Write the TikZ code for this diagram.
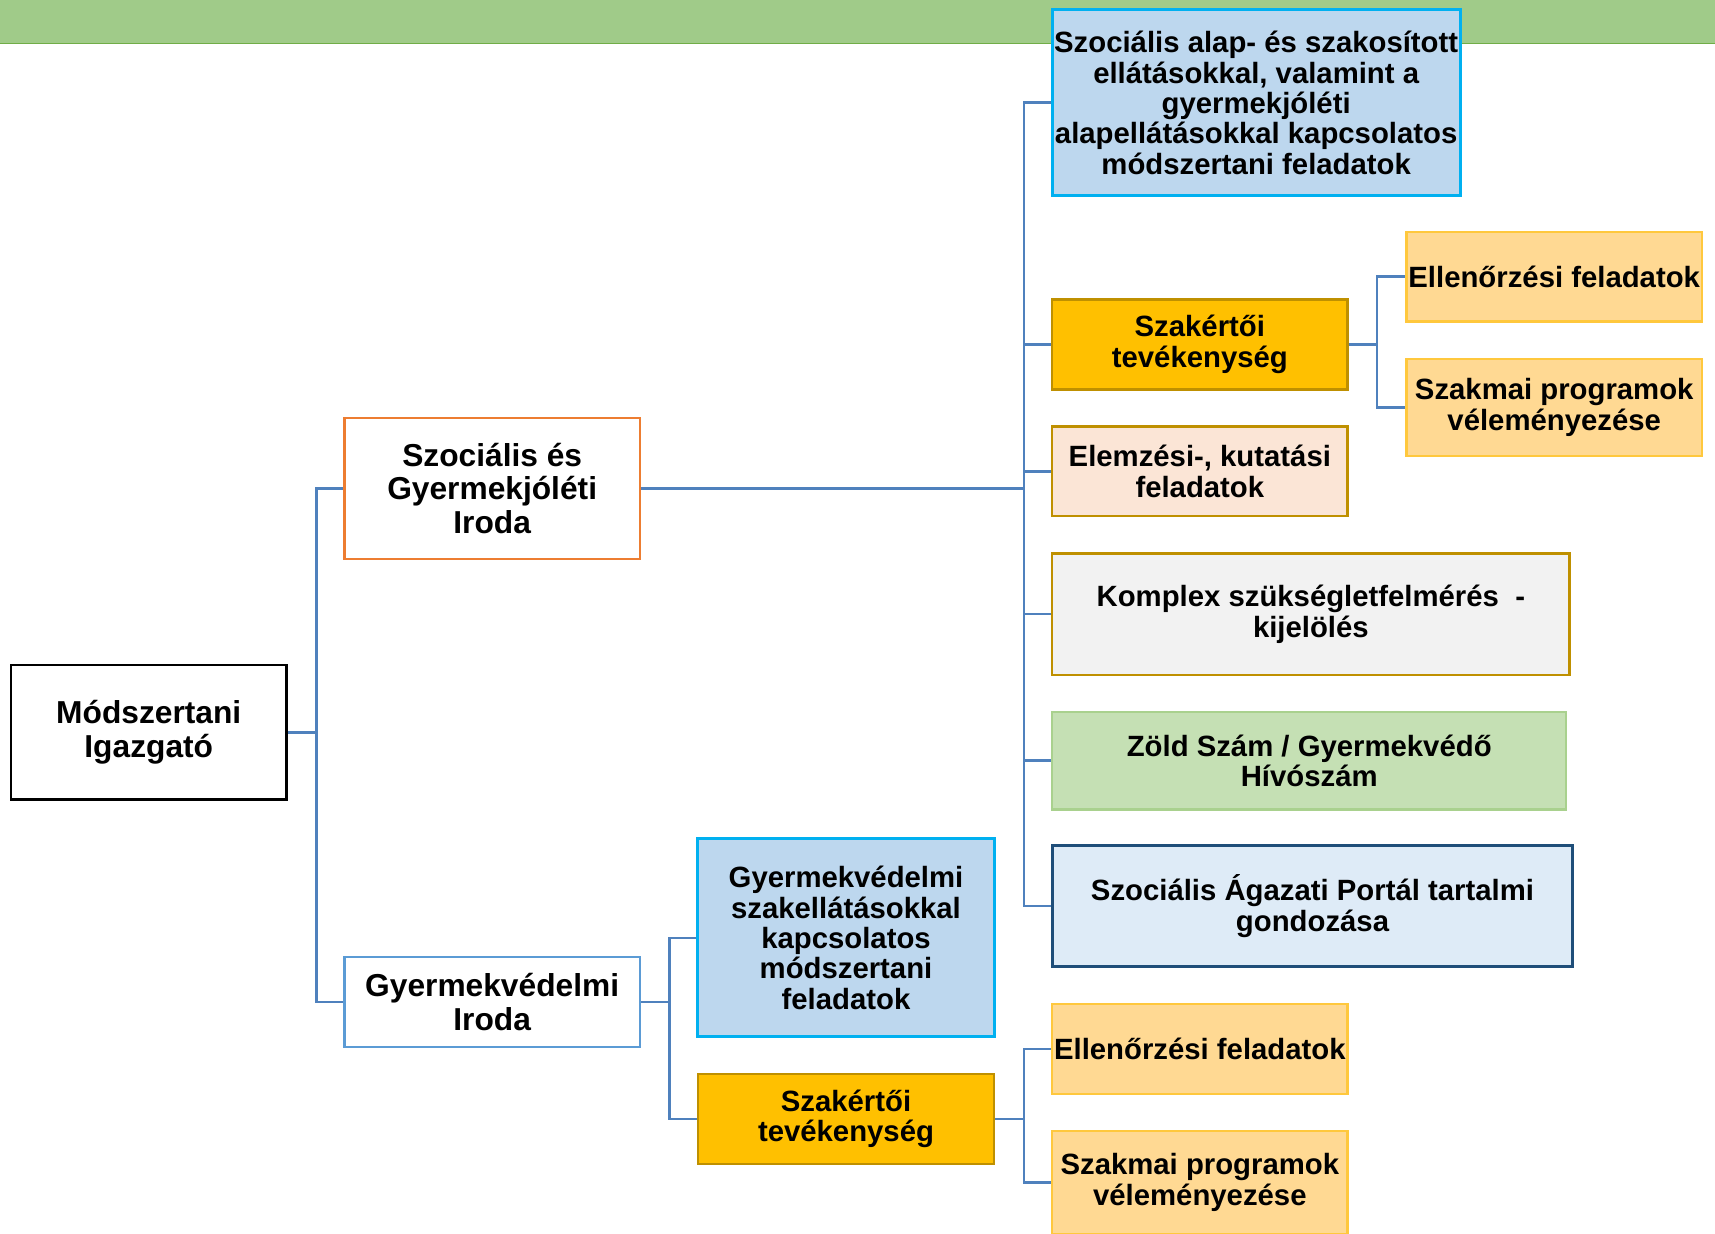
\documentclass[tikz,border=0pt]{standalone}
\usepackage{fontspec}
\setmainfont{Liberation Sans}
\definecolor{band}{HTML}{A0CB89}
\definecolor{bandline}{HTML}{70AD47}
\definecolor{conn}{HTML}{4F81BD}
\definecolor{lblue}{HTML}{BDD7EE}
\definecolor{cyanb}{HTML}{00B0F0}
\definecolor{gold}{HTML}{FFC000}
\definecolor{goldb}{HTML}{BF9000}
\definecolor{lorange}{HTML}{FFD993}
\definecolor{lorangeb}{HTML}{FFC83D}
\definecolor{peach}{HTML}{FBE5D6}
\definecolor{lgray}{HTML}{F2F2F2}
\definecolor{lgreen}{HTML}{C5E0B4}
\definecolor{lgreenb}{HTML}{A9D18E}
\definecolor{vlblue}{HTML}{DEEBF7}
\definecolor{dblue}{HTML}{1F4E79}
\definecolor{orangeb}{HTML}{ED7D31}
\definecolor{midblue}{HTML}{5B9BD5}
\tikzset{
  box/.style={draw, line width=1.1pt, inner sep=0pt, align=center,
    font=\bfseries\fontsize{13.4}{13.9}\selectfont},
  bigbox/.style={box, font=\bfseries\fontsize{14.5}{15.25}\selectfont},
  link/.style={draw=conn, line width=1.2pt},
}
\begin{document}
\begin{tikzpicture}[x=0.5pt,y=-0.5pt]
\useasboundingbox (0,0) rectangle (1568,1128);
\fill[band] (0,0) rectangle (1568,40);
\draw[bandline, line width=0.6pt] (0,40) -- (1568,40);

\node[bigbox, draw=black, line width=1.3pt, fill=white, minimum width=126pt, minimum height=61.5pt] (mod) at (136,669.5) {Módszertani\\Igazgató};
\node[bigbox, draw=orangeb, fill=white, minimum width=135pt, minimum height=64.5pt] (szgy) at (450,446.5) {Szociális és\\Gyermekjóléti\\Iroda};
\node[bigbox, draw=midblue, fill=white, minimum width=135pt, minimum height=41pt] (gyv) at (450,916) {Gyermekvédelmi\\Iroda};

\node[box, draw=cyanb, line width=1.3pt, fill=lblue, minimum width=186.5pt, minimum height=85pt] (alap) at (1148.5,94) {Szociális alap- és szakosított\\ellátásokkal, valamint a\\gyermekjóléti\\alapellátásokkal kapcsolatos\\módszertani feladatok};
\node[box, draw=goldb, fill=gold, minimum width=135pt, minimum height=41pt] (szak1) at (1097,315) {Szakértői\\tevékenység};
\node[box, draw=lorangeb, fill=lorange, minimum width=135pt, minimum height=41pt] (ell1) at (1421,253) {Ellenőrzési feladatok};
\node[box, draw=lorangeb, fill=lorange, minimum width=135pt, minimum height=44.5pt] (szp1) at (1421,372.5) {Szakmai programok\\véleményezése};
\node[box, draw=goldb, fill=peach, minimum width=135pt, minimum height=41pt] (elem) at (1097,431) {Elemzési-, kutatási\\feladatok};
\node[box, draw=goldb, fill=lgray, minimum width=236.5pt, minimum height=55.5pt] (komp) at (1198.5,561.5) {Komplex szükségletfelmérés \ -\\kijelölés};
\node[box, draw=lgreenb, fill=lgreen, minimum width=235pt, minimum height=44.5pt] (zold) at (1197,695.5) {Zöld Szám / Gyermekvédő\\Hívószám};
\node[box, draw=dblue, line width=1.3pt, fill=vlblue, minimum width=238pt, minimum height=55.5pt] (port) at (1200,828.5) {Szociális Ágazati Portál tartalmi\\gondozása};

\node[box, draw=cyanb, line width=1.3pt, fill=lblue, minimum width=135.5pt, minimum height=90.5pt] (gyvm) at (773.5,857.5) {Gyermekvédelmi\\szakellátásokkal\\kapcsolatos\\módszertani\\feladatok};
\node[box, draw=goldb, fill=gold, minimum width=135.5pt, minimum height=41pt] (szak2) at (773.5,1023) {Szakértői\\tevékenység};
\node[box, draw=lorangeb, fill=lorange, minimum width=135pt, minimum height=41pt] (ell2) at (1097,959) {Ellenőrzési feladatok};
\node[box, draw=lorangeb, fill=lorange, minimum width=135pt, minimum height=47pt] (szp2) at (1097,1081) {Szakmai programok\\véleményezése};

\foreach \c in {szgy,gyv}
  \draw[link] (mod.east) -- ++(26,0) |- (\c.west);
\foreach \c in {alap,szak1,elem,komp,zold,port}
  \draw[link] (szgy.east) -- ++(350,0) |- (\c.west);
\foreach \c in {ell1,szp1}
  \draw[link] (szak1.east) -- ++(26,0) |- (\c.west);
\foreach \c in {gyvm,szak2}
  \draw[link] (gyv.east) -- ++(26,0) |- (\c.west);
\foreach \c in {ell2,szp2}
  \draw[link] (szak2.east) -- ++(26,0) |- (\c.west);
\end{tikzpicture}
\end{document}
